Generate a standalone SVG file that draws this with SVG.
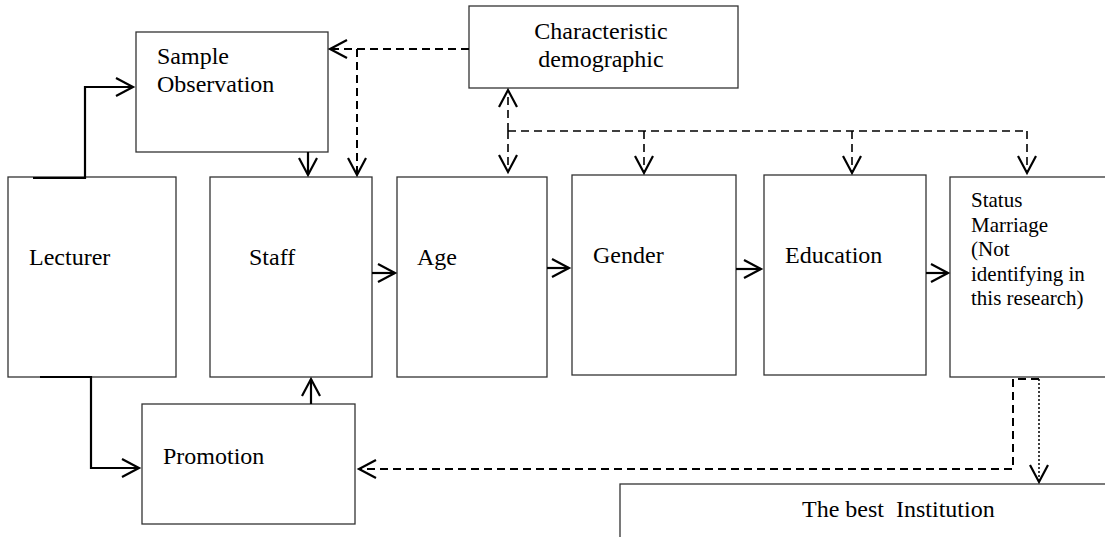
<svg xmlns="http://www.w3.org/2000/svg" width="1105" height="537" viewBox="0 0 1105 537">
<style>
.box{fill:#fff;stroke:#333;stroke-width:1.3}
.t{font-family:'Liberation Serif','Times New Roman',Times,'DejaVu Serif','Noto Serif',serif;font-size:24px;fill:#000}
.ts{font-family:'Liberation Serif','Times New Roman',Times,'DejaVu Serif','Noto Serif',serif;font-size:21px;fill:#000}
.solid{fill:none;stroke:#000;stroke-width:2.2}
.dash{fill:none;stroke:#000;stroke-width:2;stroke-dasharray:8 5}
.dash2{fill:none;stroke:#000;stroke-width:1.6;stroke-dasharray:8 5}
.dot{fill:none;stroke:#000;stroke-width:1.5;stroke-dasharray:2 2}
</style>
<defs>
<marker id="ah" markerUnits="userSpaceOnUse" markerWidth="20" markerHeight="20" refX="18" refY="9" orient="auto" overflow="visible">
<path d="M1,0 L18,9 L1,18" fill="none" stroke="#000" stroke-width="2.2" stroke-dasharray="none"/>
</marker>
</defs>
<rect width="1105" height="537" fill="#fff"/>

<g id="sample">
<rect class="box" x="136" y="32" width="192" height="120"/>
<text class="t" x="157" y="64">Sample</text>
<text class="t" x="157" y="92">Observation</text>
</g>
<g id="characteristic">
<rect class="box" x="469" y="6" width="269" height="82"/>
<text class="t" x="601" y="39" text-anchor="middle">Characteristic</text>
<text class="t" x="601" y="67" text-anchor="middle">demographic</text>
</g>
<g id="lecturer">
<rect class="box" x="8" y="177" width="168" height="200"/>
<text class="t" x="29" y="265">Lecturer</text>
</g>
<g id="staff">
<rect class="box" x="210" y="177" width="162" height="200"/>
<text class="t" x="249" y="265">Staff</text>
</g>
<g id="age">
<rect class="box" x="397" y="177" width="150" height="200"/>
<text class="t" x="417" y="265">Age</text>
</g>
<g id="gender">
<rect class="box" x="572" y="175" width="164" height="200"/>
<text class="t" x="593" y="263">Gender</text>
</g>
<g id="education">
<rect class="box" x="764" y="175" width="162" height="200"/>
<text class="t" x="785" y="263">Education</text>
</g>
<g id="status">
<rect class="box" x="950" y="177" width="170" height="200"/>
<text class="ts" x="971" y="207">Status</text>
<text class="ts" x="971" y="232">Marriage</text>
<text class="ts" x="971" y="256">(Not</text>
<text class="ts" x="971" y="281">identifying in</text>
<text class="ts" x="971" y="305">this research)</text>
</g>
<g id="promotion">
<rect class="box" x="142" y="404" width="213" height="120"/>
<text class="t" x="163" y="464">Promotion</text>
</g>
<g id="institution">
<rect class="box" x="620" y="484" width="500" height="80"/>
<text class="t" x="802" y="517" xml:space="preserve">The best  Institution</text>
</g>

<g id="connectors">
<path class="solid" d="M33,178 H85 V87 H133" marker-end="url(#ah)"/>
<path class="solid" d="M40,377 H91 V468 H139" marker-end="url(#ah)"/>
<path class="solid" d="M308,152 V175" marker-end="url(#ah)"/>
<path class="solid" d="M311,404 V379" marker-end="url(#ah)"/>
<path class="solid" d="M372,273 H395" marker-end="url(#ah)"/>
<path class="solid" d="M547,268 H569" marker-end="url(#ah)"/>
<path class="solid" d="M736,269 H761" marker-end="url(#ah)"/>
<path class="solid" d="M926,273 H948" marker-end="url(#ah)"/>
<path class="dash" d="M469,49 H330" marker-end="url(#ah)"/>
<path class="dash" d="M357,49 V175" marker-end="url(#ah)"/>
<path class="dash2" d="M508,131 V90" marker-end="url(#ah)"/>
<path class="dash2" d="M508,131 V172" marker-end="url(#ah)"/>
<path class="dash2" d="M508,131 H1027"/>
<path class="dash2" d="M644,131 V173" marker-end="url(#ah)"/>
<path class="dash2" d="M852,131 V173" marker-end="url(#ah)"/>
<path class="dash2" d="M1027,131 V173" marker-end="url(#ah)"/>
<path class="dash" d="M1039,379 H1013 V469 H359" marker-end="url(#ah)"/>
<path class="dot" d="M1039,379 V482" marker-end="url(#ah)"/>
</g>
</svg>
